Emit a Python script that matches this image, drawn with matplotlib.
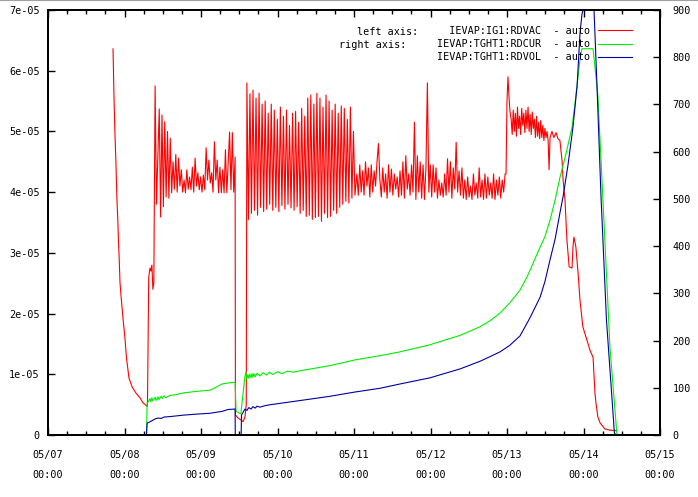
import numpy as np
import matplotlib
matplotlib.use('Agg')
import matplotlib.pyplot as plt
from matplotlib.ticker import MultipleLocator, FuncFormatter

MONO = 'DejaVu Sans Mono'
FS = 7.3

# time axis: hours since 05/07 00:00
x_tick_labels = ['05/07\n00:00', '05/08\n00:00', '05/09\n00:00', '05/10\n00:00',
                 '05/11\n00:00', '05/12\n00:00', '05/13\n00:00', '05/14\n00:00',
                 '05/15\n00:00']

# IEVAP:IG1:RDVAC (left axis, in units of 1e-05)
red_decay_t = [20.4, 20.7, 21.0, 21.3, 21.6, 21.9, 22.1, 22.3, 22.6, 22.9, 23.5, 24.2,
               24.6, 25.4, 26.4, 27.6, 28.9, 29.8, 30.7, 31.2]
red_decay_v = [6.36, 5.57, 4.97, 4.5, 3.92, 3.54, 3.21, 2.95, 2.5, 2.3, 1.94, 1.56,
               1.28, 0.94, 0.79, 0.69, 0.61, 0.53, 0.49, 0.47]
red_hump_t = [31.6, 32.0, 32.3, 32.6, 32.9, 33.2]
red_hump_v = [2.6, 2.75, 2.7, 2.8, 2.4, 2.5]
red_b = [5.75, 3.8, 4.6, 5.37, 3.59, 5.27, 3.76, 5.16, 3.92, 5.0, 3.9, 4.89, 3.99, 4.5,
         4.05, 4.62, 4.0, 4.56, 4.1, 4.37, 4.0, 4.2, 3.99, 4.37, 4.05, 4.25, 4.04, 4.41,
         4.0, 4.56, 4.1, 4.32, 4.04, 4.25, 4.0, 4.28, 4.04, 4.73, 4.2, 4.53, 4.15, 4.32,
         4.0, 4.83, 4.2, 4.53, 3.99, 4.41, 3.99, 4.37, 3.99, 4.7, 3.99, 4.48, 4.99, 4.04,
         4.98, 4.0, 4.58]
red_gap_t = [58.8, 59.6, 60.5, 61.2, 61.8, 62.2]
red_gap_v = [0.33, 0.28, 0.25, 0.22, 0.3, 0.5]
red_c = [5.8, 3.55, 5.62, 3.65, 5.68, 3.7, 5.55, 3.62, 5.63, 3.75, 5.45, 3.68, 5.5, 3.72,
         5.3, 3.8, 5.45, 3.7, 5.35, 3.75, 5.2, 3.68, 5.4, 3.78, 5.25, 3.72, 5.35, 3.8,
         5.1, 3.74, 5.3, 3.7, 5.33, 3.76, 5.15, 3.65, 5.38, 3.7, 5.25, 3.6, 5.55, 3.62,
         5.6, 3.55, 5.45, 3.58, 5.63, 3.6, 5.55, 3.52, 5.4, 3.65, 5.6, 3.58, 5.5, 3.6,
         5.35, 3.7, 5.45, 3.65, 5.3, 3.75, 5.42, 3.8, 5.38, 3.85, 5.2, 3.82, 5.4, 3.9,
         5.0, 3.95]
red_d = [4.3, 3.95, 4.45, 4.0, 4.35, 3.95, 4.5, 4.1, 4.4,
         3.92, 4.45, 4.0, 4.35, 4.1, 4.5, 4.8, 4.2, 3.92, 4.4,
         4.0, 4.3, 3.9, 4.45, 4.0, 4.38, 3.95, 4.3, 4.05, 4.25,
         3.92, 4.35, 3.95, 4.5, 3.9, 4.6, 4.05, 4.3, 3.95, 4.45, 4.0,
         5.15, 3.88, 4.6, 4.0, 4.5, 3.9, 4.45, 3.88, 4.4, 5.8, 4.0, 4.45,
         3.92, 4.45, 4.0, 4.4, 3.9, 4.2, 3.95, 4.15, 3.92, 4.3, 3.95, 4.55, 4.0, 4.5,
         3.9, 4.4, 4.05, 4.82, 4.0, 4.35, 3.95, 4.4,
         3.9, 4.2, 3.88, 4.25, 3.92, 4.1, 3.88, 4.3, 3.95, 4.15, 3.9, 4.4, 3.92, 4.2,
         3.88, 4.3, 3.9, 4.25, 3.95, 4.15, 3.9, 4.3, 3.88, 4.2, 3.95, 4.25, 3.9, 4.2,
         4.0, 4.3]
red_jump_t = [143.7, 144.0, 144.3, 144.6, 144.9]
red_jump_v = [4.3, 5.5, 5.9, 5.6, 5.35]
red_e = [5.2, 4.95, 5.35, 5.0, 5.3, 4.92, 5.4, 5.05, 5.25, 4.95, 5.38, 5.1, 5.3, 4.98,
         5.35, 5.05, 5.4, 5.0, 5.28, 4.95, 5.32, 5.05, 5.2, 4.9, 5.25, 4.92, 5.15, 4.88,
         5.18, 4.9, 5.1, 4.85, 5.05, 4.9, 5.0, 4.85]
red_tail_t = [157.2, 157.5, 158.1, 158.7, 159.4, 160.0, 160.6, 161.3, 161.6, 162.2, 162.8,
              163.5, 164.4, 164.7, 165.0, 165.6, 166.3, 166.9, 167.8, 169.1, 170.0, 171.0,
              171.3, 171.6, 171.9, 172.5, 173.2, 174.7, 176.3, 178.5]
red_tail_v = [4.37, 4.9, 5.0, 4.9, 4.98, 4.88, 4.85, 4.5, 4.2, 3.87, 3.21, 2.77, 2.75,
              3.1, 3.26, 3.1, 2.67, 2.22, 1.78, 1.56, 1.40, 1.28, 1.0, 0.69, 0.53, 0.30,
              0.2, 0.1, 0.08, 0.07]

# IEVAP:TGHT1:RDCUR (right axis)
green_t = [20.4, 30.9, 31.1, 31.4, 32.0, 32.3, 32.6, 32.9, 33.6, 33.9, 34.5, 34.8, 35.5,
           35.8, 36.4, 37.0, 38.3, 39.8, 42.4, 46.1, 50.8, 52.4, 54.6, 56.5, 58.7, 59.0,
           60.5, 61.8, 62.1, 62.4, 62.7, 63.0, 63.3, 63.7, 64.0, 64.3, 64.6, 65.0, 65.6,
           66.5, 67.5, 68.5, 69.5, 70.5, 72.0, 73.5, 75.0, 77.0, 79.1, 88.5, 96.3, 104.2,
           110.4, 119.8, 129.3, 135.5, 138.7, 141.8, 144.9, 148.1, 150.3, 152.2, 154.0,
           155.9, 157.5, 159.1, 160.6, 162.5, 164.4, 165.3, 166.3, 166.9, 167.5, 171.0,
           172.5, 174.1, 176.3, 178.5]
green_v = [0, 0, 68, 70, 77, 70, 79, 72, 80, 73, 81, 75, 82, 77, 83, 79, 84, 85, 89, 92,
           95, 100, 108, 110, 112, 50, 45, 125, 133, 119, 128, 120, 129, 121, 130, 122,
           130, 123, 131, 125, 132, 127, 133, 128, 134, 130, 135, 133, 136, 147, 159, 168,
           176, 191, 211, 229, 242, 258, 280, 307, 335, 364, 392, 420, 455, 498, 545, 595,
           652, 700, 760, 795, 818, 818, 720, 498, 186, 0]

# IEVAP:TGHT1:RDVOL (right axis)
blue_t = [20.4, 30.9, 31.1, 32.0, 33.6, 34.5, 35.5, 36.4, 38.3, 42.4, 46.1, 50.8, 54.6,
          56.5, 58.7, 58.75, 60.6, 60.7, 61.8, 62.4, 63.0, 63.7, 64.3, 65.0, 65.6, 66.5,
          68.0, 69.6, 79.1, 88.5, 96.3, 104.2, 110.4, 119.8, 129.3, 135.5, 138.7, 141.8,
          144.9, 148.1, 151.2, 154.4, 155.9, 157.5, 159.1, 160.6, 161.6, 163.1, 164.7,
          166.0, 166.9, 167.5, 167.8, 171.3, 172.2, 173.5, 175.2, 177.7, 178.2]
blue_v = [0, 0, 25, 28, 34, 36, 35, 38, 39, 42, 44, 46, 50, 54, 55, 0, 0, 42, 55, 52, 58,
          55, 60, 57, 61, 59, 62, 64, 73, 82, 91, 99, 108, 121, 140, 156, 166, 176, 190,
          210, 248, 292, 325, 371, 415, 470, 505, 570, 652, 740, 851, 890, 900, 900, 745,
          504, 244, 4, 0]

legend_labels = ['  IEVAP:IG1:RDVAC  - auto', 'IEVAP:TGHT1:RDCUR  - auto',
                 'IEVAP:TGHT1:RDVOL  - auto']

# assemble the red series
red_t = np.concatenate([
    red_decay_t, red_hump_t,
    np.linspace(33.6, 58.7, len(red_b)),
    red_gap_t,
    np.linspace(62.4, 96.3, len(red_c)),
    np.linspace(96.9, 143.4, len(red_d)),
    red_jump_t,
    np.linspace(145.3, 156.9, len(red_e)),
    red_tail_t])
red_v = np.concatenate([red_decay_v, red_hump_v, red_b, red_gap_v, red_c, red_d,
                        red_jump_v, red_e, red_tail_v]) * 1e-5

W, H = 698, 497
fig = plt.figure(figsize=(W / 100, H / 100), dpi=100)
ax = fig.add_axes([48 / W, 1 - 435 / H, (660 - 48) / W, (435 - 10) / H])
ax2 = ax.twinx()

l1, = ax.plot(red_t, red_v, color='#ff0000', lw=0.8)
l2, = ax2.plot(green_t, green_v, color='#00ee00', lw=0.8)
l3, = ax2.plot(blue_t, blue_v, color='#0000a0', lw=0.8)

ax.set_xlim(0, 192)
ax.set_ylim(0, 7e-5)
ax2.set_ylim(0, 900)

ax.set_xticks(np.arange(0, 193, 24))
ax.set_xticklabels(x_tick_labels, fontfamily=MONO, fontsize=FS, linespacing=2.25)
ax.xaxis.set_minor_locator(MultipleLocator(6))
ax.yaxis.set_major_locator(MultipleLocator(1e-5))
ax.yaxis.set_major_formatter(FuncFormatter(lambda v, p: '%g' % round(v, 12)))
ax2.yaxis.set_major_locator(MultipleLocator(100))

ax.tick_params(axis='x', which='both', direction='in', top=True, bottom=True,
               pad=11, labelsize=FS)
ax.tick_params(axis='x', which='major', length=5, width=1)
ax.tick_params(axis='x', which='minor', length=3, width=1)
ax.tick_params(axis='y', direction='in', length=5, width=1, pad=6, labelsize=FS)
ax2.tick_params(axis='y', direction='in', length=5, width=1, pad=9, labelsize=FS)
for a in (ax, ax2):
    for lab in a.get_yticklabels() + a.get_xticklabels():
        lab.set_fontfamily(MONO)
    for s in a.spines.values():
        s.set_linewidth(1.3)
        s.set_color('black')

ax2.legend([l1, l2, l3], legend_labels, loc='upper right',
           bbox_to_anchor=(632 / W, 1 - 26 / H), bbox_transform=fig.transFigure,
           frameon=False, markerfirst=False, borderpad=0, borderaxespad=0,
           handlelength=3.4, handletextpad=0.7, labelspacing=0.32,
           prop={'family': MONO, 'size': FS})
fig.text(357 / W, 1 - 32 / H, 'left axis:', ha='left', va='center',
         fontfamily=MONO, fontsize=FS)
fig.text(339 / W, 1 - 45 / H, 'right axis:', ha='left', va='center',
         fontfamily=MONO, fontsize=FS)
fig.add_artist(plt.Line2D([0, 1], [1, 1], transform=fig.transFigure,
                          color='#a0a0a0', lw=1.5))

fig.savefig('out.png', dpi=100)
